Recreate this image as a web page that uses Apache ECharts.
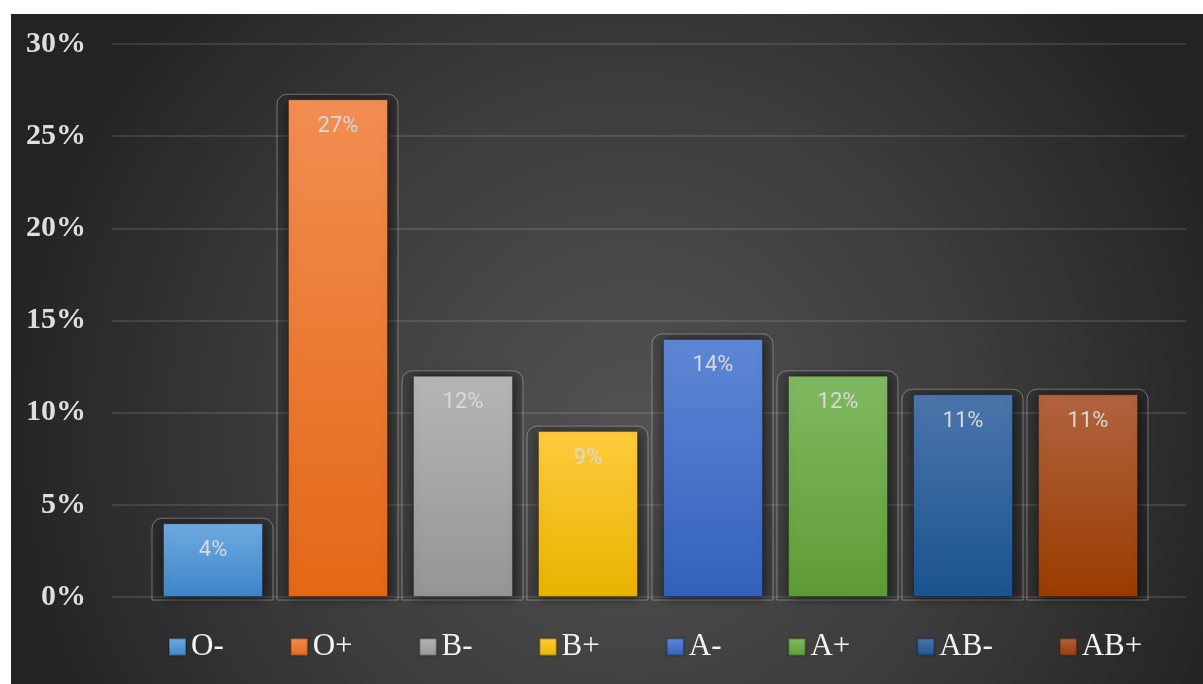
<!DOCTYPE html>
<html>
<head>
<meta charset="utf-8">
<title>Blood type distribution</title>
<script src="https://cdn.jsdelivr.net/npm/echarts@6/dist/echarts.min.js"></script>
<style>
  html, body { margin: 0; padding: 0; background: #ffffff; }
  #chart { position: absolute; left: 11px; top: 14px; width: 1192px; height: 670px; }
</style>
</head>
<body>
<div id="chart"></div>
<script>
// Blood types and their share of the population (percent)
const categories = ['O-', 'O+', 'B-', 'B+', 'A-', 'A+', 'AB-', 'AB+'];
const values = [4, 27, 12, 9, 14, 12, 11, 11];
const yTicks = { min: 0, max: 30, interval: 5 };

// top / bottom gradient colours for each blood type
const palette = [
  ['#6eaae2', '#3f86c8'],
  ['#f38d52', '#e36816'],
  ['#b5b5b5', '#959595'],
  ['#ffcb3c', '#e9b300'],
  ['#5e87d6', '#3361bc'],
  ['#81b962', '#5e9c34'],
  ['#4b75ab', '#1a548f'],
  ['#b1633f', '#993c01']
];

const grad = (c) => new echarts.graphic.LinearGradient(0, 0, 0, 1, [
  { offset: 0, color: c[0] }, { offset: 1, color: c[1] }
]);

const chart = echarts.init(document.getElementById('chart'), null, { renderer: 'canvas' });

const gridTop = 30, gridBottom = 87;

const barSeries = categories.map((name, i) => ({
  name: name,
  type: 'bar',
  stack: 'share',
  xAxisIndex: 1,
  yAxisIndex: 1,
  barWidth: 100,
  z: 3,
  data: values.map((v, j) => (j === i ? v : null)),
  itemStyle: {
    color: grad(palette[i]),
    borderColor: 'rgba(0,0,0,0.25)',
    borderWidth: 1,
    shadowBlur: 10,
    shadowColor: 'rgba(0,0,0,0.6)',
    shadowOffsetX: 1,
    shadowOffsetY: 1
  },
  label: {
    show: true,
    position: 'insideTop',
    distance: 16,
    formatter: '{c}%',
    color: '#d9d9d9',
    fontFamily: 'Roboto',
    fontSize: 22
  },
  emphasis: { disabled: true }
}));

// bevelled frame behind each bar
const frameSeries = {
  type: 'custom',
  xAxisIndex: 1,
  yAxisIndex: 1,
  z: 2,
  silent: true,
  data: values.map((v, i) => [i, v]),
  renderItem: function (params, api) {
    const top = api.coord([api.value(0), api.value(1)]);
    const base = api.coord([api.value(0), 0]);
    const x = top[0] - 61;
    const y = top[1] - 5;
    return {
      type: 'rect',
      shape: { x: x, y: y, width: 121, height: base[1] + 3 - y, r: [10, 10, 0, 0] },
      style: {
        fill: 'rgba(0,0,0,0.1)',
        stroke: 'rgba(225,225,225,0.4)',
        lineWidth: 1
      }
    };
  }
};

const option = {
  backgroundColor: new echarts.graphic.RadialGradient(0.52, 0.62, 0.95, [
    { offset: 0, color: '#525252' },
    { offset: 0.55, color: '#3c3c3c' },
    { offset: 1, color: '#232323' }
  ]),
  animation: false,
  grid: [
    { left: 101, right: 17, top: gridTop, bottom: gridBottom },
    { left: 139.5, right: 52.5, top: gridTop, bottom: gridBottom }
  ],
  xAxis: [
    { type: 'value', gridIndex: 0, show: false, min: 0, max: 1 },
    {
      type: 'category', gridIndex: 1, data: categories,
      axisLine: { show: false }, axisTick: { show: false }, axisLabel: { show: false },
      splitLine: { show: false }
    }
  ],
  yAxis: [
    {
      type: 'value', gridIndex: 0,
      min: yTicks.min, max: yTicks.max, interval: yTicks.interval,
      axisLine: { show: false }, axisTick: { show: false },
      axisLabel: {
        formatter: '{value}%',
        margin: 26,
        color: '#dedede',
        fontFamily: '"Liberation Serif", "Times New Roman", serif',
        fontWeight: 'bold',
        fontSize: 30
      },
      splitLine: { lineStyle: { color: 'rgba(255,255,255,0.11)', width: 2 } }
    },
    {
      type: 'value', gridIndex: 1,
      min: yTicks.min, max: yTicks.max, interval: yTicks.interval,
      show: false, splitLine: { show: false }
    }
  ],
  legend: {
    data: categories,
    left: 157,
    top: 617,
    padding: 0,
    itemWidth: 17,
    itemHeight: 17,
    itemGap: 66,
    icon: 'rect',
    selectedMode: false,
    textStyle: {
      color: '#f4f4f4',
      fontFamily: '"Liberation Serif", "Times New Roman", serif',
      fontSize: 31,
      lineHeight: 32
    }
  },
  series: [frameSeries].concat(barSeries)
};

chart.setOption(option);
</script>
</body>
</html>
